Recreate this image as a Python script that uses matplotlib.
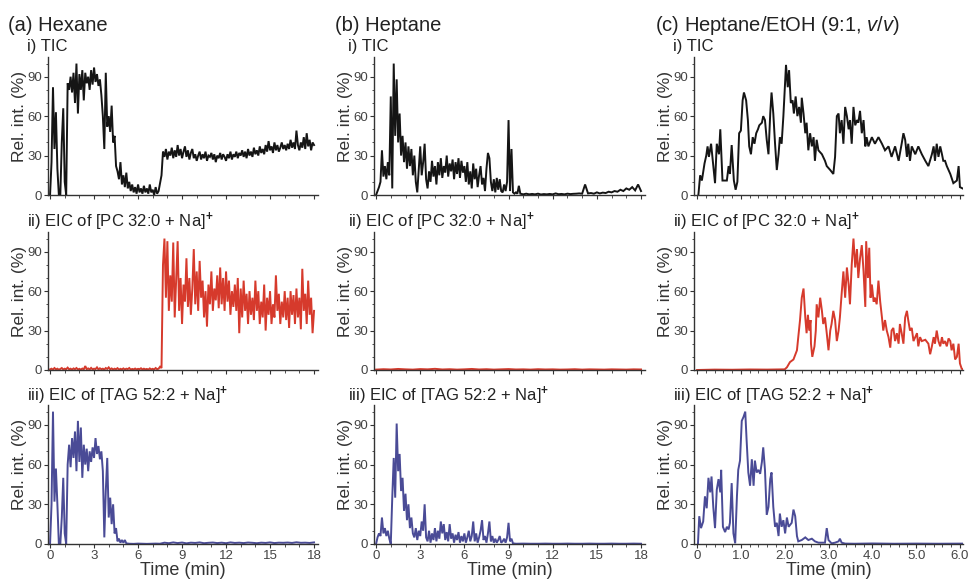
import numpy as np
import matplotlib
matplotlib.use('Agg')
import matplotlib.pyplot as plt
from matplotlib.ticker import MultipleLocator

plt.rcParams['font.family'] = ['Liberation Sans', 'DejaVu Sans']
plt.rcParams['mathtext.fontset'] = 'custom'
plt.rcParams['mathtext.rm'] = 'Liberation Sans'
plt.rcParams['mathtext.it'] = 'Liberation Sans:italic'
plt.rcParams['mathtext.bf'] = 'Liberation Sans:bold'

# ---------------- data ----------------
# (a) Hexane, i) TIC, 0.0-18.0 min
hex_tic = [
    0, 25, 82, 35, 63, 20, 0, 0, 40, 66,
    10, 0, 85, 80, 90, 78, 93, 70, 100, 62,
    92, 80, 95, 72, 93, 85, 90, 80, 95, 84,
    97, 86, 92, 83, 88, 76, 60, 35, 93, 52,
    60, 48, 68, 40, 45, 22, 18, 12, 25, 8,
    15, 6, 17, 5, 10, 3, 8, 2, 6, 1,
    8, 2, 5, 1, 7, 2, 5, 1, 8, 2,
    4, 0, 6, 1, 3, 9, 15, 33, 29, 35,
    27, 33, 30, 36, 28, 34, 29, 38, 30, 35,
    28, 33, 37, 29, 34, 27, 32, 35, 28, 31,
    26, 30, 33, 27, 31, 28, 33, 26, 30, 29,
    32, 27, 31, 25, 30, 28, 32, 27, 31, 29,
    26, 31, 28, 33, 27, 31, 29, 33, 28, 32,
    30, 34, 29, 33, 28, 35, 30, 33, 29, 36,
    31, 34, 30, 37, 32, 35, 31, 38, 33, 41,
    34, 37, 32, 40, 34, 38, 33, 36, 40, 35,
    38, 34, 39, 35, 42, 36, 40, 35, 49, 38,
    34, 40, 36, 44, 35, 47, 37, 42, 34, 40,
    38]

# (a) Hexane, ii) PC 32:0 EIC: baseline 0.0-7.6, signal 7.7-18.0
hex_pc_base = [
    0.5, 1, 0.3, 1.5, 0.5, 1, 0.2, 0.8, 1.5, 0.4,
    1, 0.6, 1.8, 0.5, 1, 0.3, 1.2, 0.6, 1.5, 0.4,
    0.9, 0.3, 1.1, 0.5, 3, 0.6, 1.2, 0.4, 1.6, 0.5,
    1, 0.7, 2, 0.4, 1.3, 0.6, 1, 0.3, 1.5, 0.8,
    2, 0.5, 1.2, 0.4, 1, 0.6, 1.4, 0.3, 0.9, 0.5,
    1.2, 0.4, 1, 0.7, 1.5, 0.3, 0.8, 0.5, 1.1, 0.4,
    0.9, 0.6, 1.3, 0.4, 1, 0.5, 0.8, 0.3, 1.2, 0.5,
    0.9, 0.4, 1.5, 0.6, 1, 2.5, 1.5]
hex_pc_sig = [
    80, 100, 55, 98, 45, 72, 52, 97, 40, 68,
    98, 45, 70, 35, 65, 52, 85, 48, 70, 42,
    62, 92, 50, 75, 45, 83, 55, 68, 40, 60,
    33, 65, 50, 75, 45, 62, 53, 72, 47, 78,
    50, 70, 45, 75, 52, 68, 42, 60, 48, 65,
    45, 70, 28, 62, 40, 68, 45, 58, 35, 60,
    42, 55, 38, 68, 45, 60, 35, 52, 40, 65,
    30, 55, 42, 60, 35, 50, 40, 72, 45, 58,
    35, 52, 40, 60, 38, 55, 32, 60, 42, 57,
    35, 62, 40, 55, 31, 77, 45, 58, 35, 68,
    42, 55, 28, 45]

# (a) Hexane, iii) TAG 52:2 EIC: 0.0-5.2, then tail 5.4-18.0
hex_tag_main = [
    0, 30, 100, 32, 57, 30, 0, 0, 20, 50,
    8, 0, 60, 75, 58, 80, 65, 85, 55, 93,
    62, 88, 50, 75, 60, 72, 55, 70, 62, 73,
    65, 80, 68, 74, 64, 70, 55, 5, 40, 65,
    20, 35, 15, 30, 8, 12, 2, 4, 1, 3,
    1, 3, 0.5]
hex_tag_tail = [
    0.2, 0.1, 0.3, 0.2, 0.1, 0.2, 0.3, 0.2, 1.0, 0.6,
    1.2, 0.7, 1.1, 0.5, 1.0, 0.8, 1.2, 0.6, 0.9, 1.1,
    0.7, 1.0, 0.6, 1.2, 0.8, 1.0, 0.7, 1.1, 0.9, 0.6,
    1.0, 0.8, 1.2, 0.7, 1.0, 0.9, 1.1, 0.8, 1.3, 0.9,
    1.0, 0.8, 1.2]

# (b) Heptane, i) TIC: 0.0-9.8, then 10.0-18.0
hep_tic_main = [
    0, 3, 6, 10, 34, 14, 22, 12, 25, 15,
    75, 5, 100, 45, 88, 40, 62, 30, 45, 25,
    40, 20, 37, 22, 35, 15, 30, 10, 2, 20,
    37, 15, 25, 39, 12, 5, 18, 10, 26, 14,
    22, 8, 25, 15, 28, 13, 22, 17, 30, 14,
    24, 18, 27, 12, 25, 16, 28, 13, 26, 17,
    22, 10, 25, 8, 18, 5, 24, 12, 20, 6,
    15, 22, 8, 13, 3, 20, 32, 28, 10, 3,
    12, 2, 13, 4, 12, 3, 2, 8, 3, 10,
    57, 3, 35, 2, 1, 2, 1, 7, 1]
hep_tic_tail = [
    0.5, 1, 0.5, 0.8, 0.5, 1, 0.4, 0.7, 0.5, 0.8,
    0.5, 1.2, 0.6, 0.8, 0.5, 1, 0.7, 0.9, 1, 1.2,
    1, 8, 1.2, 1.5, 1, 2, 1.2, 1.8, 1.5, 2.5,
    2, 3, 2.5, 4, 3, 5, 4, 6, 3.5, 8,
    3]

# (b) Heptane, ii) PC 32:0 EIC, 0.0-18.0
hep_pc = [
    0.3, 0.6, 0.4, 0.8, 0.5, 0.3, 0.7, 0.5, 0.9, 0.4,
    0.6, 0.3, 0.5, 0.8, 0.4, 0.6, 0.3, 0.5, 0.7, 0.4,
    0.5, 0.3, 0.6, 0.4, 0.5, 0.3, 0.4, 0.6, 0.3, 0.5,
    0.4, 0.3, 0.5, 0.4, 0.3, 0.5, 0.4]

# (b) Heptane, iii) TAG 52:2 EIC: 0.0-9.3, then 9.5-18.0
hep_tag_main = [
    0, 5, 8, 6, 20, 8, 12, 6, 10, 4,
    0, 35, 65, 35, 91, 55, 68, 40, 50, 25,
    38, 18, 30, 12, 20, 8, 5, 12, 3, 10,
    6, 17, 10, 30, 5, 2, 10, 1, 8, 3,
    12, 2, 10, 4, 17, 8, 15, 3, 9, 2,
    15, 4, 8, 1, 7, 3, 9, 1, 6, 2,
    8, 1, 5, 10, 2, 6, 17, 2, 8, 1,
    5, 10, 18, 3, 6, 1, 8, 17, 2, 6,
    1, 4, 1, 3, 6, 1, 2, 4, 1, 5,
    16, 2, 4, 0.5]
hep_tag_tail = [0.2, 0.3, 0.2, 0.2, 0.3, 0.2, 0.2, 0.3, 0.2,
                0.2, 0.3, 0.2, 0.2, 0.3, 0.2, 0.2, 0.3, 0.2]

# (c) Heptane/EtOH, i) TIC
mix_tic_t = [
    0.03, 0.07, 0.11, 0.17, 0.21, 0.24, 0.27, 0.32, 0.37, 0.41,
    0.45, 0.50, 0.53, 0.58, 0.68, 0.72, 0.75, 0.79, 0.84, 0.88,
    0.92, 0.96, 1.00, 1.04, 1.07, 1.12, 1.16, 1.19, 1.23, 1.27,
    1.31, 1.35, 1.39, 1.42, 1.48, 1.51, 1.55, 1.59, 1.63, 1.67,
    1.70, 1.74, 1.78, 1.82, 1.86, 1.89, 1.93, 1.97, 2.01, 2.03,
    2.07, 2.10, 2.14, 2.18, 2.21, 2.25, 2.29, 2.33, 2.37, 2.39,
    2.43, 2.47, 2.50, 2.54, 2.58, 2.62, 2.66, 2.69, 2.73, 2.77,
    2.85, 2.92, 2.96, 3.04, 3.11, 3.15, 3.19, 3.23, 3.26, 3.30,
    3.34, 3.38, 3.42, 3.46, 3.49, 3.53, 3.57, 3.61, 3.65, 3.68,
    3.72, 3.76, 3.80, 3.84, 3.87, 3.91, 3.99, 4.06, 4.14, 4.22,
    4.29, 4.37, 4.44, 4.52, 4.60, 4.67, 4.71, 4.75, 4.79, 4.82,
    4.86, 4.90, 4.98, 5.05, 5.13, 5.21, 5.28, 5.36, 5.40, 5.43,
    5.47, 5.51, 5.55, 5.59, 5.62, 5.66, 5.70, 5.78, 5.85, 5.93,
    5.97, 6.00, 6.06]
mix_tic_v = [
    0, 15, 11, 24, 30, 37, 29, 39, 22, 9,
    39, 31, 50, 11, 11, 22, 16, 38, 11, 4,
    10, 47, 49, 72, 78, 72, 57, 37, 31, 44,
    39, 47, 50, 53, 55, 60, 57, 42, 31, 62,
    78, 62, 39, 19, 31, 44, 39, 60, 85, 99,
    82, 95, 70, 72, 62, 75, 60, 67, 55, 74,
    62, 47, 55, 34, 47, 37, 44, 26, 42, 34,
    31, 26, 22, 19, 16, 29, 60, 62, 47, 57,
    39, 67, 60, 50, 57, 39, 67, 53, 57, 55,
    64, 47, 57, 37, 44, 37, 44, 39, 44, 39,
    34, 37, 29, 37, 26, 39, 47, 42, 29, 39,
    26, 37, 31, 37, 31, 26, 22, 31, 37, 26,
    39, 29, 37, 31, 26, 26, 22, 16, 9, 11,
    22, 6, 5]

# (c) Heptane/EtOH, ii) PC 32:0 EIC
mix_pc_t = [
    0.00, 0.40, 0.80, 1.20, 1.60, 2.00, 2.05, 2.12, 2.20, 2.28,
    2.31, 2.35, 2.39, 2.43, 2.47, 2.50, 2.53, 2.56, 2.59, 2.60,
    2.63, 2.68, 2.71, 2.73, 2.77, 2.81, 2.85, 2.88, 2.92, 2.96,
    3.00, 3.04, 3.07, 3.11, 3.15, 3.19, 3.23, 3.26, 3.30, 3.34,
    3.38, 3.42, 3.46, 3.49, 3.53, 3.57, 3.61, 3.65, 3.68, 3.72,
    3.76, 3.80, 3.84, 3.86, 3.90, 3.93, 3.96, 3.99, 4.03, 4.06,
    4.10, 4.14, 4.18, 4.22, 4.25, 4.29, 4.33, 4.37, 4.41, 4.44,
    4.48, 4.52, 4.56, 4.60, 4.63, 4.67, 4.71, 4.75, 4.79, 4.82,
    4.86, 4.90, 4.94, 4.98, 5.02, 5.05, 5.09, 5.13, 5.21, 5.28,
    5.32, 5.36, 5.40, 5.43, 5.47, 5.51, 5.55, 5.59, 5.62, 5.66,
    5.70, 5.74, 5.78, 5.81, 5.85, 5.89, 5.93, 5.97, 6.00, 6.04,
    6.07]
mix_pc_v = [
    0, 0.3, 0.2, 0.4, 0.3, 0.5, 2, 6, 8, 15,
    25, 38, 55, 62, 40, 28, 42, 30, 38, 20,
    10, 18, 30, 50, 40, 55, 45, 35, 40, 28,
    15, 30, 35, 45, 38, 22, 30, 40, 58, 75,
    55, 78, 65, 50, 80, 100, 78, 92, 70, 85,
    95, 75, 48, 98, 70, 93, 55, 65, 52, 55,
    50, 68, 52, 40, 30, 38, 30, 25, 17, 30,
    32, 22, 28, 20, 35, 28, 20, 40, 45, 38,
    30, 32, 22, 25, 28, 18, 25, 22, 23, 20,
    12, 18, 25, 20, 30, 22, 18, 25, 20, 22,
    18, 24, 22, 15, 20, 8, 10, 20, 5, 1,
    0.5]

# (c) Heptane/EtOH, iii) TAG 52:2 EIC
mix_tag_t = [
    0.02, 0.05, 0.09, 0.14, 0.18, 0.22, 0.26, 0.30, 0.33, 0.37,
    0.41, 0.45, 0.49, 0.53, 0.55, 0.59, 0.64, 0.68, 0.72, 0.75,
    0.79, 0.83, 0.87, 0.91, 0.94, 0.98, 1.02, 1.06, 1.10, 1.13,
    1.17, 1.21, 1.25, 1.29, 1.32, 1.36, 1.40, 1.44, 1.48, 1.51,
    1.55, 1.59, 1.63, 1.67, 1.70, 1.74, 1.78, 1.82, 1.86, 1.89,
    1.93, 1.97, 2.01, 2.05, 2.09, 2.16, 2.20, 2.24, 2.28, 2.31,
    2.39, 2.47, 2.54, 2.62, 2.69, 2.77, 2.85, 2.92, 2.96, 3.00,
    3.07, 3.15, 3.23, 3.26, 3.30, 3.38, 3.60, 4.00, 4.50, 5.00,
    5.50, 6.06]
mix_tag_v = [
    0, 21, 12, 17, 36, 27, 50, 39, 51, 28,
    12, 41, 49, 39, 56, 13, 9, 13, 11, 16,
    46, 8, 0.5, 36, 56, 63, 93, 96, 100, 79,
    54, 44, 64, 44, 63, 54, 56, 53, 62, 73,
    56, 22, 28, 49, 54, 28, 13, 16, 6, 23,
    13, 18, 8, 20, 13, 16, 26, 21, 6, 2,
    3, 5, 3, 4, 2, 1, 1, 1, 12, 3,
    0.5, 1, 2, 4, 1, 0.3, 0.2, 0.4, 0.2, 0.3,
    0.2, 0.3]

col_titles = ['(a) Hexane', '(b) Heptane', r'(c) Heptane/EtOH (9:1, $\mathit{v/v}$)']
row_titles = ['i) TIC',
              r'ii) EIC of [PC 32:0 + Na]$^{\mathbf{+}}$',
              r'iii) EIC of [TAG 52:2 + Na]$^{\mathbf{+}}$']
x_ticks_ab = [0, 3, 6, 9, 12, 15, 18]
x_ticks_c = [0, 1, 2, 3, 4, 5, 6]
x_ticklabels_c = ['0', '1.0', '2.0', '3.0', '4.0', '5.0', '6.0']
y_ticks = [0, 30, 60, 90]


def seg(t0, t1, vals):
    return np.linspace(t0, t1, len(vals)), np.asarray(vals, float)


def join(*segs):
    return (np.concatenate([s[0] for s in segs]),
            np.concatenate([s[1] for s in segs]))


traces = [
    [seg(0.0, 18.0, hex_tic),
     join(seg(0.0, 7.6, hex_pc_base), seg(7.7, 18.0, hex_pc_sig)),
     join(seg(0.0, 5.2, hex_tag_main), seg(5.4, 18.0, hex_tag_tail))],
    [join(seg(0.0, 9.8, hep_tic_main), seg(10.0, 18.0, hep_tic_tail)),
     seg(0.0, 18.0, hep_pc),
     join(seg(0.0, 9.3, hep_tag_main), seg(9.5, 18.0, hep_tag_tail))],
    [(np.array(mix_tic_t), np.array(mix_tic_v, float)),
     (np.array(mix_pc_t), np.array(mix_pc_v, float)),
     (np.array(mix_tag_t), np.array(mix_tag_v, float))],
]

colors = ['#151515', '#d63a2c', '#4a4b96']

# ---------------- layout ----------------
W, H = 976, 580
fig = plt.figure(figsize=(W / 100, H / 100), dpi=100)

cols_px = [(48, 318), (374, 645), (694, 963)]
rows_px = [(57, 195), (232, 370), (405, 544)]
xlims = [(-0.14, 18.27), (-0.14, 18.27), (-0.07, 6.07)]
title_x = [8, 335, 655]
sub_x = [27, 348, 673]
sub_base = [51, 227, 401]

for c in range(3):
    l, r = cols_px[c]
    fig.text(title_x[c] / W, 1 - 31 / H, col_titles[c], fontsize=14.5,
             color='#222222', va='baseline', ha='left')
    for rr in range(3):
        top, bot = rows_px[rr]
        ax = fig.add_axes([l / W, 1 - bot / H, (r - l) / W, (bot - top) / H])
        t, v = traces[c][rr]
        ax.plot(t, v, color=colors[rr], lw=1.4, solid_joinstyle='miter',
                clip_on=True)
        ax.set_xlim(*xlims[c])
        ax.set_ylim(0, 105)
        for s in ['top', 'right']:
            ax.spines[s].set_visible(False)
        for s in ['left', 'bottom']:
            ax.spines[s].set_color('#333333')
            ax.spines[s].set_linewidth(1.0)
        ax.set_yticks(y_ticks)
        ax.yaxis.set_minor_locator(MultipleLocator(10))
        if c < 2:
            ax.set_xticks(x_ticks_ab)
            ax.xaxis.set_minor_locator(MultipleLocator(1))
        else:
            ax.set_xticks(x_ticks_c)
            ax.set_xticklabels(x_ticklabels_c)
            ax.xaxis.set_minor_locator(MultipleLocator(0.2))
        ax.tick_params(which='major', length=3, width=0.8, color='#333333',
                       labelsize=9.5, labelcolor='#444444', pad=1.5)
        ax.tick_params(which='minor', length=1.8, width=0.6, color='#333333')
        if rr < 2:
            ax.tick_params(axis='x', labelbottom=False)
        else:
            ax.set_xlabel('Time (min)', fontsize=13, color='#333333', labelpad=0)
        ax.set_ylabel('Rel. int. (%)', fontsize=12.5, color='#333333')
        ax.yaxis.set_label_coords(-0.077, 0.57)
        fig.text(sub_x[c] / W, 1 - sub_base[rr] / H, row_titles[rr],
                 fontsize=12, color='#222222', va='baseline', ha='left')

fig.savefig('out.png', dpi=100)
